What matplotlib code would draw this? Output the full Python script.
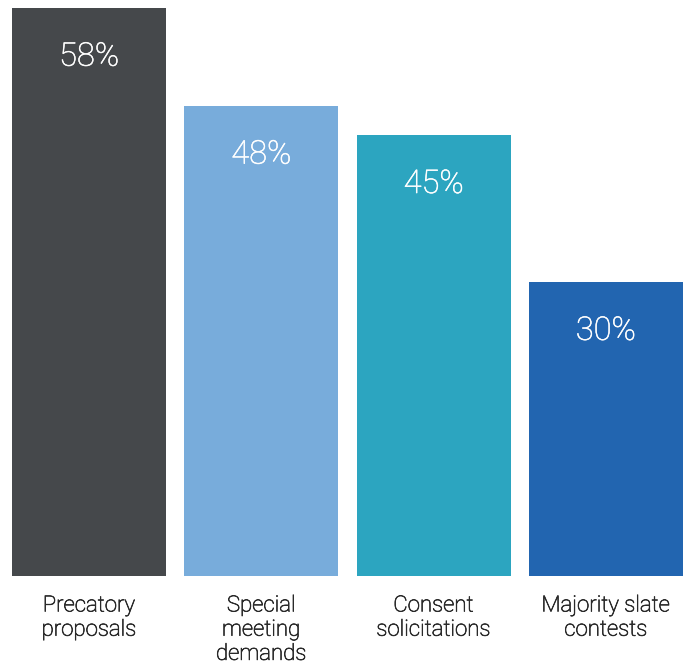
import matplotlib
matplotlib.use('Agg')
import matplotlib.pyplot as plt
import matplotlib.patheffects as pe

# share of campaigns by tactic
categories = ['Precatory\nproposals', 'Special\nmeeting\ndemands',
              'Consent\nsolicitations', 'Majority slate\ncontests']
values = [58, 48, 45, 30]
colors = ['#45484b', '#78acdb', '#2ca5c0', '#2265b0']

plt.rcParams['font.family'] = ['Roboto', 'DejaVu Sans']

fig = plt.figure(figsize=(6.88, 6.65), dpi=100)
ax = fig.add_axes([0.0174, 0.1338, 0.9753, 0.854])

x = range(len(values))
bars = ax.bar(x, values, width=0.895, color=colors)

for xi, v in zip(x, values):
    ax.annotate(f'{v}%', (xi, v), xytext=(0, -35), textcoords='offset points',
                ha='center', va='center', color='white', fontsize=23.5,
                fontweight='light',
                path_effects=[pe.withStroke(linewidth=0.4, foreground='white')])

ax.set_xlim(-0.4475, 3.4475)
ax.set_ylim(0, 58)
ax.set_xticks(list(x))
ax.set_xticklabels(categories, fontsize=16, color='#2a2a2a',
                   fontweight='light', linespacing=1.2, va='top')
for lbl in ax.get_xticklabels():
    lbl.set_path_effects([pe.withStroke(linewidth=0.5, foreground='#2a2a2a')])
ax.tick_params(axis='x', length=0, pad=14)
ax.set_yticks([])
for s in ax.spines.values():
    s.set_visible(False)

fig.savefig('out.png', dpi=100)
